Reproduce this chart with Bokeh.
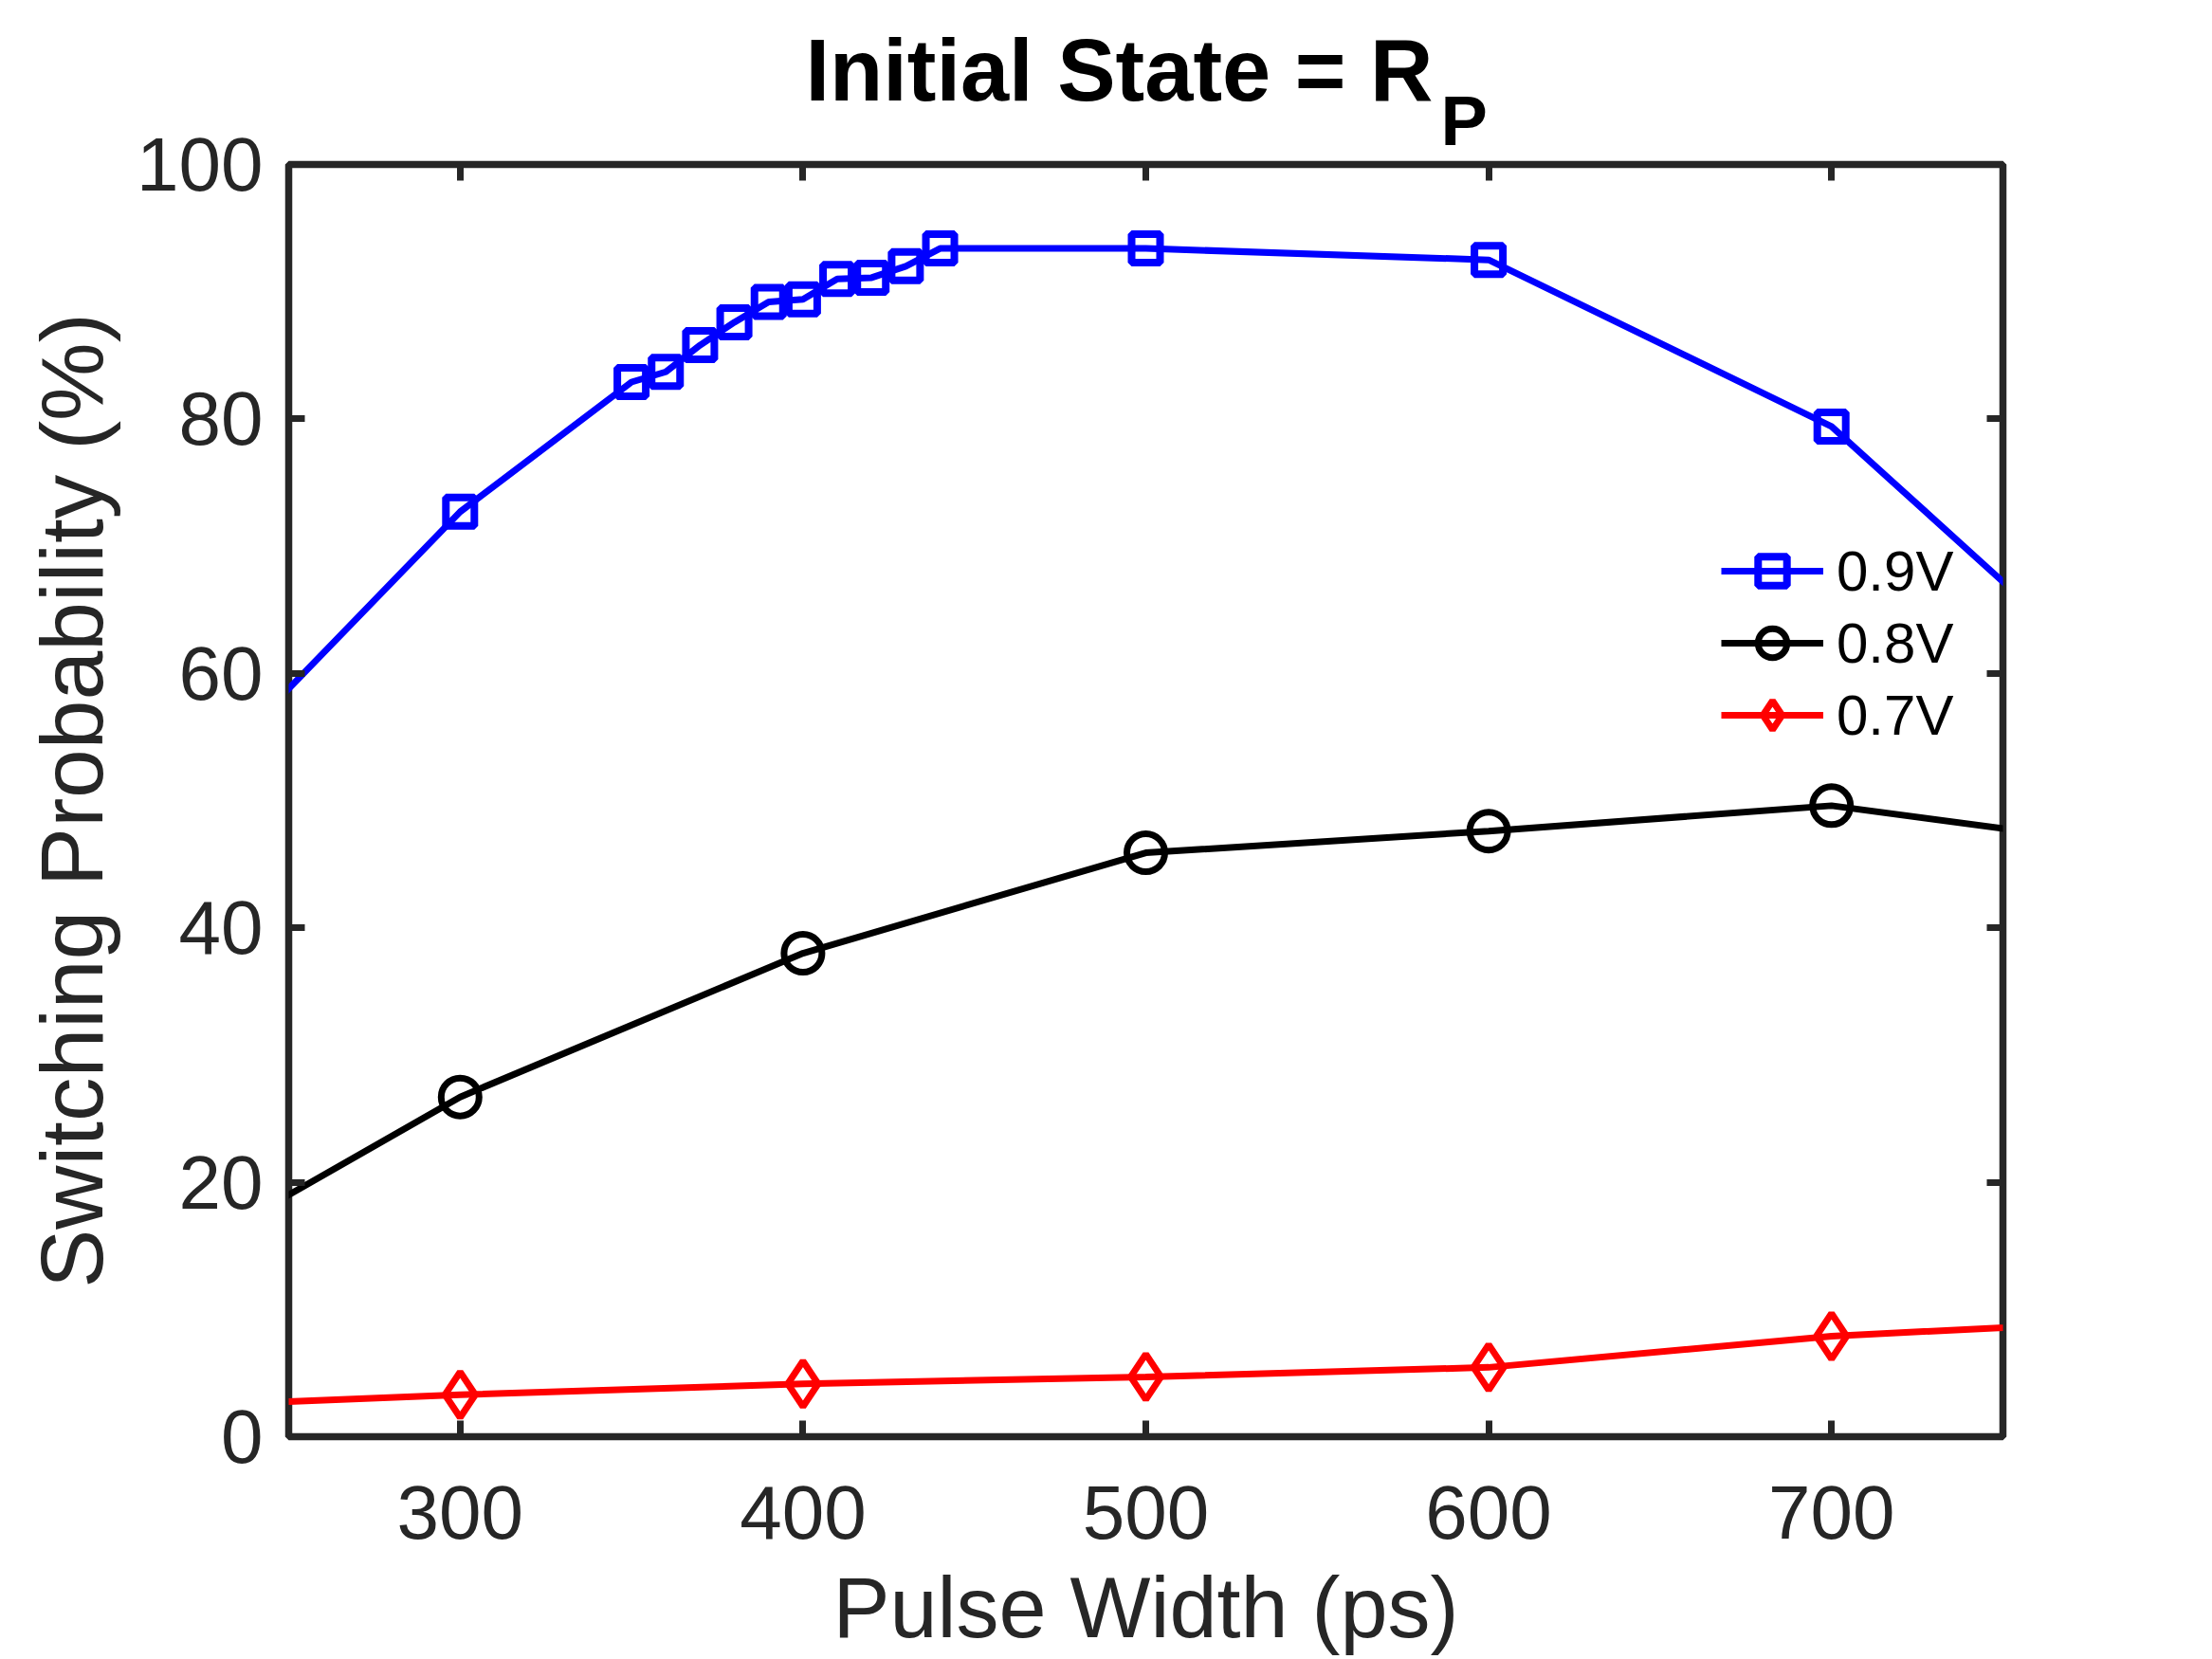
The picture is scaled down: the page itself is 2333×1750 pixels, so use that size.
from bokeh.plotting import figure
from bokeh.models import Range1d, FixedTicker, LinearAxis, Legend, LegendItem, Title
from bokeh.embed import file_html
from bokeh.resources import INLINE

# ---- data ----
x_09 = [200, 300, 350, 360, 370, 380, 390, 400, 410, 420, 430, 440, 500, 600, 700, 800]
y_09 = [44.9, 72.7, 82.9, 83.7, 85.8, 87.6, 89.2, 89.4, 91.0, 91.1, 92.0, 93.4, 93.4, 92.5, 79.4, 55.0]

x_08 = [200, 300, 400, 500, 600, 700, 800]
y_08 = [11.3, 26.7, 38.0, 45.9, 47.6, 49.6, 46.0]

x_07 = [200, 300, 400, 500, 600, 700, 800]
y_07 = [2.2, 3.3, 4.15, 4.7, 5.45, 7.9, 9.25]

x_ticks = [300, 400, 500, 600, 700]
y_ticks = [0, 20, 40, 60, 80, 100]
series_names = ["0.9V", "0.8V", "0.7V"]

title_main = "Initial State = R"
title_sub = "P"
x_label = "Pulse Width (ps)"
y_label = "Switching Probability (%)"

FONT = "Liberation Sans"
AX = "#262626"

W, H = 2333, 1750
FL, FR, FT, FB = 304, 2112, 173, 1515   # frame edges on the page

p = figure(width=W, height=H, output_backend="svg", toolbar_location=None, title=None,
           x_range=Range1d(250, 750), y_range=Range1d(0, 100),
           min_border_left=FL, min_border_right=W - FR,
           min_border_top=FT, min_border_bottom=H - FB)
p.background_fill_color = "white"
p.border_fill_color = "white"
p.grid.visible = False
p.outline_line_color = AX
p.outline_line_width = 7.5

def style_axis(ax, ticks, show_labels=True):
    ax.ticker = FixedTicker(ticks=ticks)
    ax.axis_line_color = None
    ax.major_tick_in = 17
    ax.major_tick_out = 0
    ax.major_tick_line_width = 7
    ax.major_tick_line_color = AX
    ax.minor_tick_line_color = None
    ax.major_label_text_font = FONT
    if show_labels:
        ax.major_label_text_color = AX
        ax.major_label_text_font_size = "80px"
    else:
        ax.major_label_text_color = None
        ax.major_label_text_font_size = "1px"
        ax.major_label_standoff = 0

style_axis(p.xaxis[0], x_ticks)
style_axis(p.yaxis[0], y_ticks)
p.xaxis[0].major_label_standoff = 52
p.yaxis[0].major_label_standoff = 27

for ax, lab, so, fs in ((p.xaxis[0], x_label, 20, "90px"), (p.yaxis[0], y_label, 13, "93px")):
    ax.axis_label = lab
    ax.axis_label_text_font = FONT
    ax.axis_label_text_font_size = fs
    ax.axis_label_text_font_style = "normal"
    ax.axis_label_text_color = AX
    ax.axis_label_standoff = so

top_ax = LinearAxis()
style_axis(top_ax, x_ticks, show_labels=False)
right_ax = LinearAxis()
style_axis(right_ax, y_ticks, show_labels=False)
p.add_layout(top_ax, "above")
p.add_layout(right_ax, "right")

# title: main text and subscript as two stacked titles
p.add_layout(Title(text=title_sub, text_font=FONT, text_font_size="74px",
                   text_font_style="bold", text_color="black",
                   align="left", offset=1519 - FL, standoff=9,
                   vertical_align="bottom"), "above")
p.add_layout(Title(text=title_main, text_font=FONT, text_font_size="92px",
                   text_font_style="bold", text_color="black",
                   align="right", offset=FR - 1511, standoff=-91,
                   vertical_align="bottom"), "above")

LW = 7
l9 = p.line(x_09, y_09, line_color="#0000FF", line_width=LW)
m9 = p.scatter(x_09, y_09, marker="square", size=30, line_color="#0000FF",
               fill_color=None, line_width=8)
l8 = p.line(x_08, y_08, line_color="#000000", line_width=LW)
m8 = p.scatter(x_08, y_08, marker="circle", size=40, line_color="#000000",
               fill_color=None, line_width=7)
l7 = p.line(x_07, y_07, line_color="#FF0000", line_width=LW)
m7 = p.scatter(x_07, y_07, marker="diamond", size=48, line_color="#FF0000",
               fill_color=None, line_width=7)

legend = Legend(items=[LegendItem(label=series_names[0], renderers=[l9, m9]),
                       LegendItem(label=series_names[1], renderers=[l8, m8]),
                       LegendItem(label=series_names[2], renderers=[l7, m7])],
                location=(1511, 723), padding=0, margin=0, spacing=0,
                glyph_width=108, glyph_height=76, label_height=76,
                label_standoff=14, label_text_font=FONT,
                label_text_font_size="60px", label_text_color="black",
                border_line_color=None, background_fill_alpha=0)
p.add_layout(legend, "center")

open("out.html", "w").write(file_html(p, INLINE))
